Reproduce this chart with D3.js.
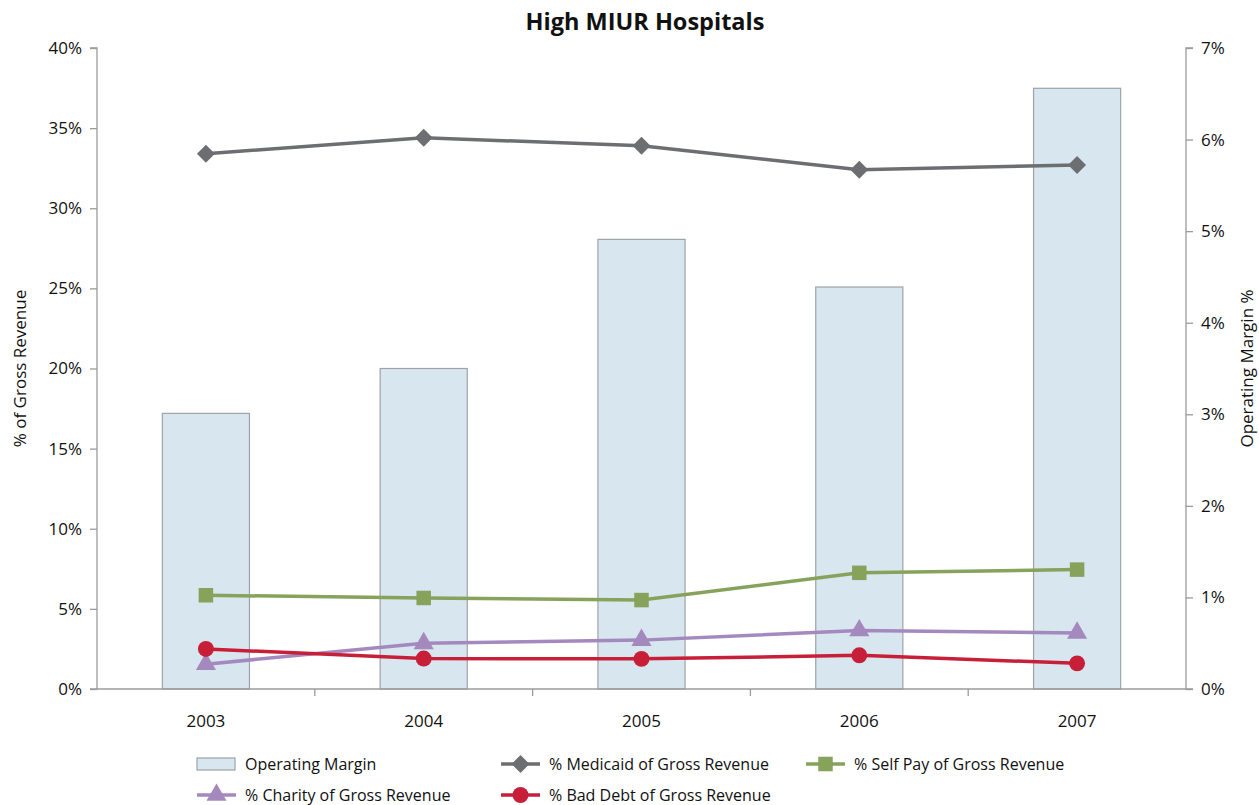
<!DOCTYPE html>
<meta charset="utf-8">
<style>
  body { margin: 0; background: #fff; }
  text { font-family: "Open Sans", "Noto Sans", sans-serif; fill: #111; }
  .axis path, .axis line { stroke: #9b9b9b; stroke-width: 1.3px; }
  .axis text { font-size: 17px; }
  .legend text { font-size: 16px; }
</style>
<script src="https://d3js.org/d3.v7.min.js"></script>
<div id="chart"></div>
<script>
  // data
  var years = ["2003", "2004", "2005", "2006", "2007"];
  var operatingMargin = [3.01, 3.50, 4.91, 4.39, 6.56];
  var medicaid = [33.4, 34.4, 33.9, 32.4, 32.7];
  var selfPay = [5.85, 5.68, 5.55, 7.25, 7.45];
  var charity = [1.55, 2.85, 3.05, 3.65, 3.5];
  var badDebt = [2.5, 1.9, 1.88, 2.1, 1.6];
  var leftTicks = [0, 5, 10, 15, 20, 25, 30, 35, 40];
  var rightTicks = [0, 1, 2, 3, 4, 5, 6, 7];

  var width = 1259, height = 805;
  var margin = { top: 48, right: 73, bottom: 116, left: 97 };
  var w = width - margin.left - margin.right;
  var h = height - margin.top - margin.bottom;

  var svg = d3.select("#chart").append("svg")
    .attr("width", width)
    .attr("height", height);

  var g = svg.append("g")
    .attr("transform", "translate(" + margin.left + "," + margin.top + ")");

  var x = d3.scaleBand().domain(years).range([0, w]).paddingInner(0.6).paddingOuter(0.3);
  var xc = function(d) { return x(d) + x.bandwidth() / 2; };
  var step = w / years.length;
  var yL = d3.scaleLinear().domain([0, 40]).range([h, 0]);
  var yR = d3.scaleLinear().domain([0, 7]).range([h, 0]);

  // bars
  g.selectAll(".bar")
    .data(years)
    .enter().append("rect")
      .attr("class", "bar")
      .attr("x", function(d) { return x(d); })
      .attr("width", x.bandwidth())
      .attr("y", function(d, i) { return yR(operatingMargin[i]); })
      .attr("height", function(d, i) { return h - yR(operatingMargin[i]); })
      .attr("fill", "#d7e6ef")
      .attr("stroke", "#9fa3a6")
      .attr("stroke-width", 1.2);

  // axes
  g.append("g").attr("class", "axis")
    .call(d3.axisLeft(yL).tickValues(leftTicks).tickSize(7).tickPadding(8)
      .tickFormat(function(d) { return d + "%"; }))
    .call(function(s) { s.select(".domain").attr("d", "M-7," + h + "H0V0H-7"); });

  g.append("g").attr("class", "axis")
    .attr("transform", "translate(" + w + ",0)")
    .call(d3.axisRight(yR).tickValues(rightTicks).tickSize(7).tickPadding(8)
      .tickFormat(function(d) { return d + "%"; }))
    .call(function(s) { s.select(".domain").attr("d", "M7," + h + "H0V0H7"); });

  var xAxis = g.append("g").attr("class", "axis")
    .attr("transform", "translate(0," + h + ")");
  xAxis.append("line").attr("x1", 0).attr("x2", w).attr("stroke", "#9b9b9b").attr("stroke-width", 1.3);
  xAxis.selectAll(".sep")
    .data(years.slice(1))
    .enter().append("line")
      .attr("x1", function(d, i) { return (i + 1) * step; })
      .attr("x2", function(d, i) { return (i + 1) * step; })
      .attr("y1", 0).attr("y2", 7);
  xAxis.selectAll(".lab")
    .data(years)
    .enter().append("text")
      .attr("x", xc)
      .attr("y", 38)
      .attr("text-anchor", "middle")
      .text(function(d) { return d; });

  // lines
  var series = [
    { name: "% Medicaid of Gross Revenue", values: medicaid, color: "#6d6e71", symbol: d3.symbolSquare, size: 160, rotate: 45 },
    { name: "% Self Pay of Gross Revenue", values: selfPay, color: "#86a25b", symbol: d3.symbolSquare, size: 210, rotate: 0 },
    { name: "% Charity of Gross Revenue", values: charity, color: "#a489be", symbol: d3.symbolTriangle, size: 175, rotate: 0 },
    { name: "% Bad Debt of Gross Revenue", values: badDebt, color: "#c81f39", symbol: d3.symbolCircle, size: 200, rotate: 0 }
  ];

  var line = d3.line()
    .x(function(d, i) { return xc(years[i]); })
    .y(function(d) { return yL(d); });

  series.forEach(function(s) {
    g.append("path")
      .attr("d", line(s.values))
      .attr("fill", "none")
      .attr("stroke", s.color)
      .attr("stroke-width", 3.5);
    g.selectAll(null)
      .data(s.values)
      .enter().append("path")
        .attr("transform", function(d, i) {
          return "translate(" + xc(years[i]) + "," + yL(d) + ") rotate(" + s.rotate + ")";
        })
        .attr("d", d3.symbol().type(s.symbol).size(s.size))
        .attr("fill", s.color);
  });

  // titles
  svg.append("text")
    .attr("x", 645).attr("y", 30)
    .attr("text-anchor", "middle")
    .style("font-size", "23.5px").style("font-weight", "bold")
    .text("High MIUR Hospitals");

  svg.append("text")
    .attr("transform", "translate(26," + (margin.top + h / 2) + ") rotate(-90)")
    .attr("text-anchor", "middle")
    .style("font-size", "17px")
    .text("% of Gross Revenue");

  svg.append("text")
    .attr("transform", "translate(1253," + (margin.top + h / 2) + ") rotate(-90)")
    .attr("text-anchor", "middle")
    .style("font-size", "17px")
    .text("Operating Margin %");

  // legend
  var legendItems = [
    { name: "Operating Margin", bar: true, x: 197, y: 764 },
    { name: series[0].name, s: series[0], x: 501, y: 764 },
    { name: series[1].name, s: series[1], x: 806, y: 764 },
    { name: series[2].name, s: series[2], x: 197, y: 795 },
    { name: series[3].name, s: series[3], x: 501, y: 795 }
  ];

  var legend = svg.append("g").attr("class", "legend");
  legendItems.forEach(function(it) {
    var lg = legend.append("g").attr("transform", "translate(" + it.x + "," + it.y + ")");
    if (it.bar) {
      lg.append("rect").attr("x", 0).attr("y", -6).attr("width", 38).attr("height", 12)
        .attr("fill", "#d7e6ef").attr("stroke", "#9fa3a6").attr("stroke-width", 1.2);
    } else {
      lg.append("line").attr("x1", 0).attr("x2", 39).attr("y1", 0).attr("y2", 0)
        .attr("stroke", it.s.color).attr("stroke-width", 3.5);
      lg.append("path").attr("transform", "translate(19.5,0) rotate(" + it.s.rotate + ")")
        .attr("d", d3.symbol().type(it.s.symbol).size(it.s.size))
        .attr("fill", it.s.color);
    }
    lg.append("text").attr("x", 48).attr("y", 0).attr("dy", "0.35em").text(it.name);
  });
</script>
